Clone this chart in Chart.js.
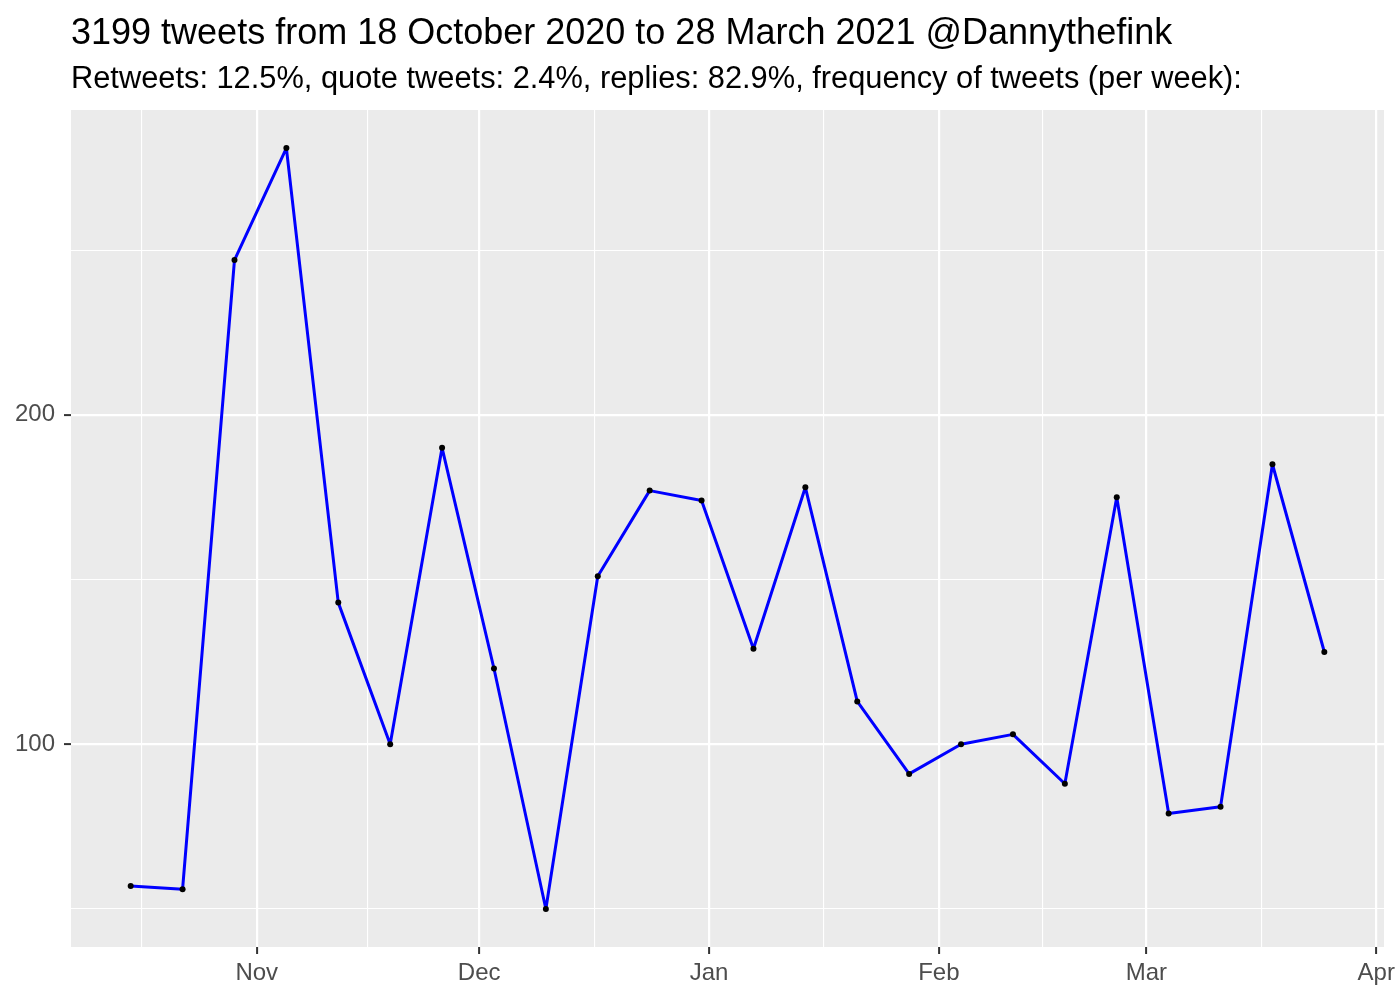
<!DOCTYPE html>
<html>
<head>
<meta charset="utf-8">
<script src="https://cdn.jsdelivr.net/npm/chart.js@4/dist/chart.umd.min.js"></script>
<style>
  html, body { margin: 0; padding: 0; background: #fff; }
  #wrap { width: 1400px; height: 1000px; }
</style>
</head>
<body>
<div id="wrap"><canvas id="chart" width="1400" height="1000"></canvas></div>
<script>
// weekly tweet counts, weeks starting on these dates
const weekStarts = [
  '2020-10-15', '2020-10-22', '2020-10-29', '2020-11-05', '2020-11-12', '2020-11-19',
  '2020-11-26', '2020-12-03', '2020-12-10', '2020-12-17', '2020-12-24', '2020-12-31',
  '2021-01-07', '2021-01-14', '2021-01-21', '2021-01-28', '2021-02-04', '2021-02-11',
  '2021-02-18', '2021-02-25', '2021-03-04', '2021-03-11', '2021-03-18', '2021-03-25'
];
const tweetsPerWeek = [
  57, 56, 247, 281, 143, 100,
  190, 123, 50, 151, 177, 174,
  129, 178, 113, 91, 100, 103,
  88, 175, 79, 81, 185, 128
];
const monthTicks = ['2020-10-01', '2020-11-01', '2020-12-01', '2021-01-01', '2021-02-01', '2021-03-01', '2021-04-01'];
const monthLabels = ['Oct', 'Nov', 'Dec', 'Jan', 'Feb', 'Mar', 'Apr'];
const yTicks = [50, 100, 150, 200, 250];
const yLabelled = [100, 200];

const TITLE = '3199 tweets from 18 October 2020 to 28 March 2021 @Dannythefink';
const SUBTITLE = 'Retweets: 12.5%, quote tweets: 2.4%, replies: 82.9%, frequency of tweets (per week):';
const FONT = '"Liberation Sans", Arial, Helvetica, sans-serif';

const toDay = s => Date.UTC(+s.slice(0, 4), +s.slice(5, 7) - 1, +s.slice(8, 10)) / 86400000;

const xs = weekStarts.map(toDay);
const monthDays = monthTicks.map(toDay);
const labelByDay = new Map(monthDays.map((d, i) => [d, monthLabels[i]]));

// ggplot style 5% expansion
const xPad = (xs[xs.length - 1] - xs[0]) * 0.05;
const xMin = xs[0] - xPad;
const xMax = xs[xs.length - 1] + xPad;
const yLo = Math.min(...tweetsPerWeek), yHi = Math.max(...tweetsPerWeek);
const yPad = (yHi - yLo) * 0.05;

// major ticks on month starts, minor ones half way between
const xTickVals = [];
for (let i = 0; i < monthDays.length; i++) {
  xTickVals.push(monthDays[i]);
  if (i < monthDays.length - 1) xTickVals.push((monthDays[i] + monthDays[i + 1]) / 2);
}
const xTicksShown = xTickVals.filter(v => v >= xMin && v <= xMax);

const panelBg = {
  id: 'panelBg',
  beforeDraw(chart) {
    const { ctx, chartArea: a } = chart;
    ctx.save();
    ctx.fillStyle = '#EBEBEB';
    ctx.fillRect(a.left, a.top, a.right - a.left, a.bottom - a.top);
    ctx.restore();
  }
};

const titles = {
  id: 'titles',
  afterDraw(chart) {
    const { ctx, chartArea: a } = chart;
    ctx.save();
    ctx.fillStyle = '#000';
    ctx.textAlign = 'left';
    ctx.textBaseline = 'alphabetic';
    ctx.font = '36px ' + FONT;
    ctx.fillText(TITLE, a.left, 44);
    ctx.font = '30.8px ' + FONT;
    ctx.fillText(SUBTITLE, a.left, 88);
    ctx.restore();
  }
};

new Chart(document.getElementById('chart'), {
  type: 'line',
  data: {
    datasets: [{
      data: xs.map((x, i) => ({ x, y: tweetsPerWeek[i] })),
      borderColor: '#0000FF',
      borderWidth: 3,
      borderJoinStyle: 'round',
      borderCapStyle: 'round',
      tension: 0,
      pointRadius: 3,
      pointBackgroundColor: '#000',
      pointBorderWidth: 0,
      pointHoverRadius: 3
    }]
  },
  options: {
    responsive: false,
    animation: false,
    layout: { padding: { top: 110, right: 15, left: 0, bottom: 0 } },
    plugins: {
      legend: { display: false },
      tooltip: { enabled: false }
    },
    scales: {
      x: {
        type: 'linear',
        min: xMin,
        max: xMax,
        afterBuildTicks: s => { s.ticks = xTicksShown.map(v => ({ value: v })); },
        afterFit: s => { s.height = 53; },
        border: { display: false },
        grid: {
          color: '#FFFFFF',
          lineWidth: c => (c.tick && labelByDay.has(c.tick.value) ? 2.2 : 1.1),
          drawTicks: true,
          tickLength: 7,
          tickWidth: 2,
          tickColor: c => (c.tick && labelByDay.has(c.tick.value) ? '#333333' : 'rgba(0,0,0,0)')
        },
        ticks: {
          autoSkip: false,
          maxRotation: 0,
          padding: 5,
          color: '#4D4D4D',
          font: { size: 24, family: FONT },
          callback: v => labelByDay.get(v) || ''
        }
      },
      y: {
        type: 'linear',
        min: yLo - yPad,
        max: yHi + yPad,
        afterBuildTicks: s => { s.ticks = yTicks.map(v => ({ value: v })); },
        afterFit: s => { s.width = 71; },
        border: { display: false },
        grid: {
          color: '#FFFFFF',
          lineWidth: c => (c.tick && yLabelled.includes(c.tick.value) ? 2.2 : 1.1),
          drawTicks: true,
          tickLength: 7,
          tickWidth: 2,
          tickColor: c => (c.tick && yLabelled.includes(c.tick.value) ? '#333333' : 'rgba(0,0,0,0)')
        },
        ticks: {
          padding: 9,
          color: '#4D4D4D',
          font: { size: 24, family: FONT },
          callback: v => (yLabelled.includes(v) ? String(v) : '')
        }
      }
    }
  },
  plugins: [panelBg, titles]
});
</script>
</body>
</html>
